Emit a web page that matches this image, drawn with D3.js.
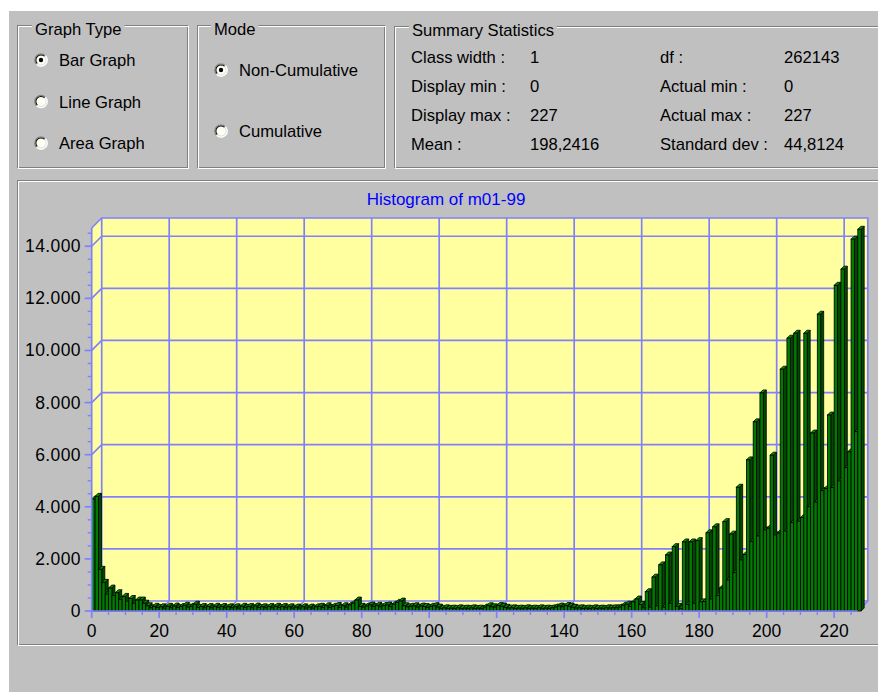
<!DOCTYPE html>
<html><head><meta charset="utf-8">
<script src="https://cdn.jsdelivr.net/npm/d3@7"></script>
<style>
body{margin:0;background:#fff;overflow:hidden;}
svg text{font-family:"Liberation Sans",Arial,sans-serif;}
</style></head><body>
<svg id="c" width="878" height="692"></svg>
<script>
// ---------- DATA ----------
const chartTitle = "Histogram of m01-99";
const counts = [
 4300,4400,1600,1100,650,880,600,700,450,560,380,480,300,420,420,300,
 200,120,180,130,160,110,180,120,190,130,170,220,150,180,260,140,
 170,120,170,120,180,130,170,120,160,120,160,110,180,140,170,120,
 190,130,160,120,170,120,180,130,170,120,160,110,150,110,160,110,
 150,110,160,180,130,200,130,180,210,140,200,150,230,300,420,180,
 150,190,230,170,220,160,210,230,170,260,330,380,200,160,180,200,
 150,190,170,140,180,200,150,100,120,100,110,100,120,100,110,100,
 120,100,110,100,150,200,160,150,210,180,140,110,120,100,110,100,
 120,100,110,100,120,100,110,100,120,150,190,160,210,180,140,110,
 120,100,110,100,120,100,110,100,120,110,120,120,150,220,260,180,
 350,460,250,120,740,150,1300,200,1770,150,2150,300,2470,180,100,2650,
 250,2650,300,2700,350,360,3000,460,3230,600,880,3430,1190,2950,1470,4750,
 1960,2170,5800,2660,7260,2880,8370,3110,3180,5980,2920,2990,9280,3070,10470,3390,
 10660,3450,3590,10660,4000,6830,4180,11390,4620,4700,7520,4740,12500,4990,13120,5500,
 6110,14270,6880,14650
];
const xTicks = [0,20,40,60,80,100,120,140,160,180,200,220];
const xMinorTicks = [5,10,15,25,30,35,45,50,55,65,70,75,85,90,95,105,110,115,125,130,135,145,150,155,165,170,175,185,190,195,205,210,215,225];
const yTicks = [0,2000,4000,6000,8000,10000,12000,14000];
const yTickLabels = ["0","2.000","4.000","6.000","8.000","10.000","12.000","14.000"];
const yMinorTicks = [500,1000,1500,2500,3000,3500,4500,5000,5500,6500,7000,7500,8500,9000,9500,10500,11000,11500,12500,13000,13500,14500];
const graphTypes = ["Bar Graph","Line Graph","Area Graph"];
const modes = ["Non-Cumulative","Cumulative"];
const statLabelsLeft = ["Class width :","Display min :","Display max :","Mean :"];
const statValuesLeft = ["1","0","227","198,2416"];
const statLabelsRight = ["df :","Actual min :","Actual max :","Standard dev :"];
const statValuesRight = ["262143","0","227","44,8124"];

// ---------- SETUP ----------
const svg = d3.select("#c");
const GRAY = "#c0c0c0", DARK = "#808080", GRID = "#8080ff", WALL = "#ffffa0";
const FS = 16.6;

svg.append("rect").attr("x",0).attr("y",0).attr("width",878).attr("height",692).attr("fill","#fff");
svg.append("rect").attr("x",9).attr("y",11).attr("width",869).attr("height",681).attr("fill",GRAY);

function etched(x,y,w,h){
  svg.append("rect").attr("x",x+0.5).attr("y",y+0.5).attr("width",w).attr("height",h)
    .attr("fill","none").attr("stroke",DARK);
  svg.append("rect").attr("x",x+1.5).attr("y",y+1.5).attr("width",w).attr("height",h)
    .attr("fill","none").attr("stroke","#fff");
}
function groupBox(x,y,w,h,title,tx){
  etched(x,y,w,h);
  const t = svg.append("text").attr("x",tx).attr("y",y+10).attr("font-size",FS).attr("fill","#000").text(title);
  const len = t.node().getComputedTextLength();
  svg.insert("rect", () => t.node()).attr("x",tx-3).attr("y",y-2).attr("width",len+6).attr("height",8).attr("fill",GRAY);
}
function radio(cx,cy,checked){
  const g = svg.append("g").attr("transform",`translate(${cx},${cy})`);
  const arc = d3.arc();
  g.append("circle").attr("r",6.5).attr("fill","#fffff4");
  // outer shadow (top-left) and highlight (bottom-right)
  g.append("path").attr("d",arc({innerRadius:5.6,outerRadius:6.8,startAngle:-Math.PI*3/4,endAngle:Math.PI/4})).attr("fill",DARK);
  g.append("path").attr("d",arc({innerRadius:5.6,outerRadius:6.8,startAngle:Math.PI/4,endAngle:Math.PI*5/4})).attr("fill","#fff");
  g.append("path").attr("d",arc({innerRadius:4.6,outerRadius:5.6,startAngle:-Math.PI*3/4,endAngle:Math.PI/4})).attr("fill","#000");
  g.append("path").attr("d",arc({innerRadius:4.6,outerRadius:5.6,startAngle:Math.PI/4,endAngle:Math.PI*5/4})).attr("fill","#dfdfdf");
  if(checked) g.append("circle").attr("r",2.2).attr("fill","#000");
}

// ---------- TOP PANELS ----------
groupBox(17,25,170,142,"Graph Type",35);
graphTypes.forEach((s,i)=>{
  const cy = 60 + i*41.5;
  radio(41,cy,i===0);
  svg.append("text").attr("x",59).attr("y",cy+6).attr("font-size",FS).text(s);
});
groupBox(197,25,187,142,"Mode",214);
modes.forEach((s,i)=>{
  const cy = 70 + i*61;
  radio(221,cy,i===0);
  svg.append("text").attr("x",239).attr("y",cy+6).attr("font-size",FS).text(s);
});
groupBox(394,26,500,141,"Summary Statistics",412);
statLabelsLeft.forEach((s,i)=>{
  const by = 63 + i*29;
  svg.append("text").attr("x",411).attr("y",by).attr("font-size",FS).text(s);
  svg.append("text").attr("x",530).attr("y",by).attr("font-size",FS).text(statValuesLeft[i]);
  svg.append("text").attr("x",660).attr("y",by).attr("font-size",FS).text(statLabelsRight[i]);
  svg.append("text").attr("x",784).attr("y",by).attr("font-size",FS).text(statValuesRight[i]);
});

// ---------- CHART PANEL ----------
etched(17,180,880,464);

const DX = 10, DY = -10;
const x = d3.scaleLinear().domain([0,227]).range([91.7,857.8]);
const y = d3.scaleLinear().domain([0,14700]).range([611,228]);
const y0 = y(0), yT = y(14700), xL = x(0), xR = x(227);

// walls
svg.append("rect").attr("x",xL+DX).attr("y",yT+DY).attr("width",xR-xL).attr("height",y0-yT).attr("fill",WALL);
svg.append("polygon").attr("points",`${xL},${yT} ${xL+DX},${yT+DY} ${xL+DX},${y0+DY} ${xL},${y0}`).attr("fill",WALL);
svg.append("polygon").attr("points",`${xL},${y0} ${xL+DX},${y0+DY} ${xR+DX},${y0+DY} ${xR},${y0}`).attr("fill",WALL);

const grid = svg.append("g").attr("stroke",GRID).attr("stroke-width",1.7).attr("fill","none");
yTicks.filter(v=>v>0).forEach(v=>{
  grid.append("line").attr("x1",xL+DX).attr("x2",xR+DX).attr("y1",y(v)+DY).attr("y2",y(v)+DY);
  grid.append("line").attr("x1",xL).attr("x2",xL+DX).attr("y1",y(v)).attr("y2",y(v)+DY);
});
xTicks.filter(v=>v>0).forEach(v=>{
  grid.append("line").attr("x1",x(v)+DX).attr("x2",x(v)+DX).attr("y1",yT+DY).attr("y2",y0+DY);
  grid.append("line").attr("x1",x(v)).attr("x2",x(v)+DX).attr("y1",y0).attr("y2",y0+DY);
});
grid.append("path").attr("d",`M${xL},${yT} L${xL+DX},${yT+DY} L${xR+DX},${yT+DY} L${xR+DX},${y0+DY} L${xR},${y0}`);
grid.append("path").attr("d",`M${xL+DX},${yT+DY} L${xL+DX},${y0+DY} L${xR+DX},${y0+DY}`);

// bars (3D)
const bw = x(1)-x(0), bd = 3;
const bars = svg.append("g").attr("stroke","#000").attr("stroke-width",0.8).attr("stroke-linejoin","miter");
counts.forEach((v,i)=>{
  const bx = x(i), by = y(v);
  const g = bars.append("g");
  g.append("polygon").attr("points",`${bx+bw},${by} ${bx+bw+bd},${by-bd} ${bx+bw+bd},${y0-bd} ${bx+bw},${y0}`).attr("fill","#004a00");
  g.append("polygon").attr("points",`${bx},${by} ${bx+bd},${by-bd} ${bx+bw+bd},${by-bd} ${bx+bw},${by}`).attr("fill","#009000");
  g.append("rect").attr("x",bx).attr("y",by).attr("width",bw).attr("height",y0-by).attr("fill","#007a00");
});

// axes (front)
const axisG = svg.append("g");
axisG.append("line").attr("x1",xL).attr("x2",xL).attr("y1",yT).attr("y2",y0+1).attr("stroke",GRID).attr("stroke-width",1.7);
axisG.append("line").attr("x1",xL).attr("x2",xR).attr("y1",y0).attr("y2",y0).attr("stroke",GRID).attr("stroke-width",1.7);
yTicks.forEach((v,i)=>{
  axisG.append("line").attr("x1",xL-7).attr("x2",xL).attr("y1",y(v)).attr("y2",y(v)).attr("stroke",GRID).attr("stroke-width",1.7);
  axisG.append("text").attr("x",81).attr("y",y(v)+6).attr("text-anchor","end").attr("font-size",17.5).attr("letter-spacing",0.4).attr("fill","#000").text(yTickLabels[i]);
});
yMinorTicks.forEach(v=>{
  axisG.append("line").attr("x1",xL-4).attr("x2",xL).attr("y1",y(v)).attr("y2",y(v)).attr("stroke",GRID).attr("stroke-width",1.4);
});
xTicks.forEach(v=>{
  axisG.append("line").attr("x1",x(v)).attr("x2",x(v)).attr("y1",y0).attr("y2",y0+7).attr("stroke",GRID).attr("stroke-width",1.7);
  axisG.append("text").attr("x",x(v)).attr("y",637).attr("text-anchor","middle").attr("font-size",17.5).attr("fill","#000").text(v);
});
xMinorTicks.forEach(v=>{
  axisG.append("line").attr("x1",x(v)).attr("x2",x(v)).attr("y1",y0).attr("y2",y0+4).attr("stroke",GRID).attr("stroke-width",1.4);
});

// title
svg.append("text").attr("x",446).attr("y",205).attr("text-anchor","middle").attr("font-size",17).attr("fill","#0000ff").text(chartTitle);
</script>
</body></html>
